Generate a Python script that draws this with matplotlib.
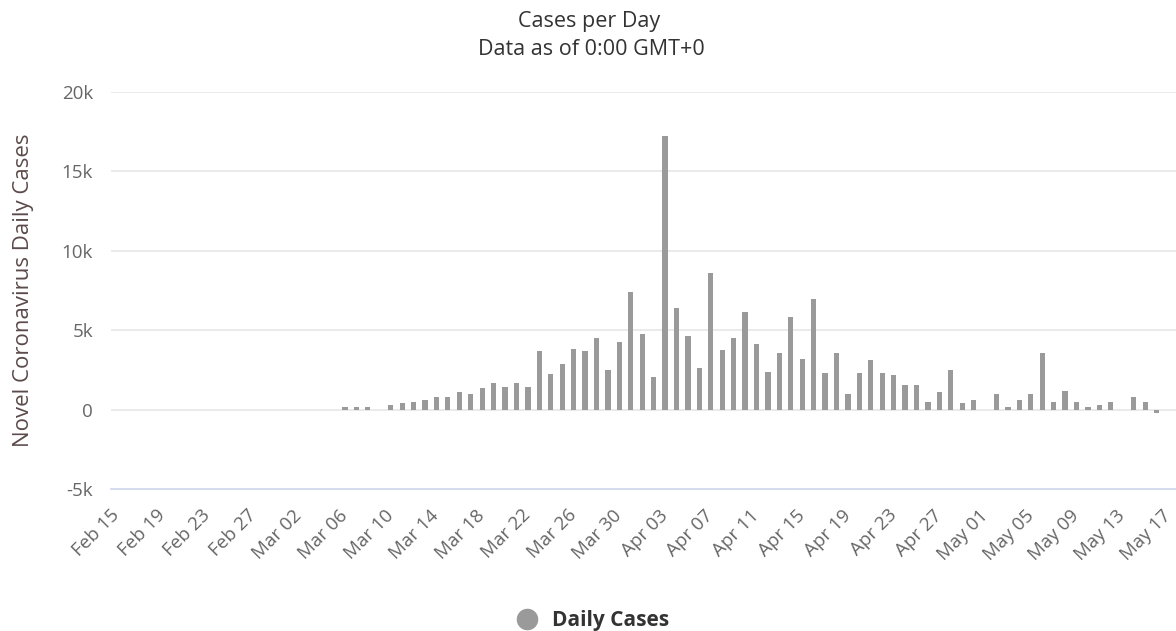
import matplotlib
matplotlib.use("Agg")
import matplotlib.pyplot as plt
import matplotlib.dates as mdates
from matplotlib.lines import Line2D
from matplotlib.ticker import FuncFormatter
import pandas as pd

plt.rcParams["font.family"] = ["Open Sans", "DejaVu Sans"]

# Daily cases, Feb 15 .. May 17 (2020)
dates = pd.date_range("2020-02-15", "2020-05-17", freq="D")
feb_early_mar = [0] * 20  # Feb 15 - Mar 05
mar = [150, 150, 150, 0, 300, 400, 500, 630, 780, 780, 1090, 990, 1350,
       1680, 1450, 1680, 1450, 3680, 2270, 2860, 3790, 3680, 4500, 2500,
       4270, 7430]  # Mar 06 - Mar 31
apr = [4730, 2030, 17240, 6370, 4620, 2640, 8610, 3780, 4510, 6140, 4160,
       2380, 3590, 5800, 3210, 6960, 2280, 3590, 970, 2280, 3100, 2280,
       2150, 1560, 1570, 505, 1100, 2510, 400, 630]
may = [0, 990, 150, 610, 990, 3560, 505, 1200, 505, 150, 295, 505, 0, 780,
       505, -210, 0]
daily_cases = feb_early_mar + mar + apr + may

y_ticks = [-5000, 0, 5000, 10000, 15000, 20000]

BAR = "#9a9a9a"
TEXT = "#666666"
GRID = "#e6e6e6"

fig = plt.figure(figsize=(11.76, 6.31), dpi=100)
ax = fig.add_axes([111 / 1176, 1 - 489 / 631, 1065 / 1176, 397 / 631])

x = mdates.date2num(dates)
ax.bar(x, daily_cases, width=0.46, color=BAR, linewidth=0, zorder=3)

ax.set_xlim(x[0] - 0.47, x[0] + 92.7)
ax.set_ylim(-5000, 20000)
ax.set_yticks(y_ticks)
ax.yaxis.set_major_formatter(FuncFormatter(lambda v, p: "0" if v == 0 else f"{int(v / 1000)}k"))
for v in y_ticks[1:]:
    ax.axhline(v, color=GRID, lw=1.2, zorder=1)

ax.set_xticks(x[::4])
ax.xaxis.set_major_formatter(mdates.DateFormatter("%b %d"))
for lab in ax.get_xticklabels():
    lab.set_rotation(45)
    lab.set_ha("right")
    lab.set_va("center")
    lab.set_rotation_mode("anchor")

ax.tick_params(axis="x", length=0, pad=17, labelsize=13.5, labelcolor=TEXT)
ax.tick_params(axis="y", length=0, pad=13, labelsize=13.5, labelcolor=TEXT)

for s in ["top", "right", "left"]:
    ax.spines[s].set_visible(False)
ax.spines["bottom"].set_color("#ccd6eb")
ax.spines["bottom"].set_linewidth(1.2)

ax.set_ylabel("Novel Coronavirus Daily Cases", fontsize=16, color="#5b4a4a", labelpad=20)

fig.text(0.501, 0.966, "Cases per Day", ha="center", va="center", fontsize=15.5, color="#333333")
fig.text(0.503, 0.922, "Data as of 0:00 GMT+0", ha="center", va="center", fontsize=15.5, color="#333333")

handle = Line2D([], [], marker="o", linestyle="none", markersize=14.5, color=BAR)
fig.legend([handle], ["Daily Cases"], loc="center", bbox_to_anchor=(0.5, 0.016),
           frameon=False, handletextpad=0.2, prop={"weight": "bold", "size": 15},
           labelcolor="#333333")

fig.savefig("out.png", dpi=100, facecolor="white")
